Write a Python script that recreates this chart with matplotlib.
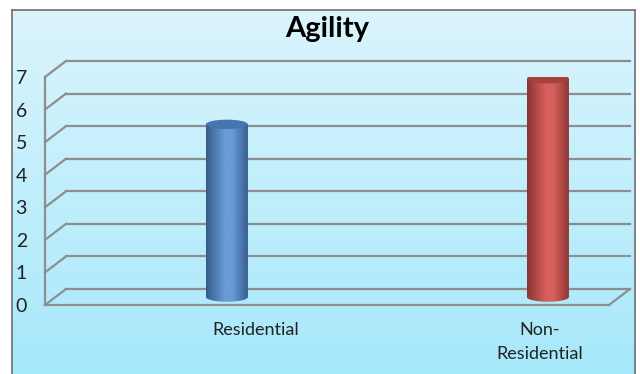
import numpy as np
import matplotlib
matplotlib.use("Agg")
import matplotlib.pyplot as plt
from matplotlib.transforms import ScaledTranslation
from matplotlib.patches import Polygon, Ellipse
from matplotlib.colors import LinearSegmentedColormap

categories = ["Residential", "Non-\nResidential"]
values = [5.3, 6.7]
bar_colors = [("#365b8c", "#6b9cd8", "#4674ae"), ("#8a3432", "#d8605c", "#a8403d")]
yticks = [0, 1, 2, 3, 4, 5, 6, 7]

plt.rcParams["font.family"] = ["Lato", "DejaVu Sans"]

W, H = 640, 374
fig = plt.figure(figsize=(W / 100, H / 100), dpi=100)
fig.patch.set_facecolor("white")

# background panel with vertical gradient
bg = fig.add_axes([12 / W, -0.01, 623 / W, 1 - 10 / H + 0.01])
grad = np.linspace(0, 1, 256).reshape(-1, 1)
bg_cmap = LinearSegmentedColormap.from_list("bg", ["#dbf5fd", "#a6e8fb"])
bg.imshow(grad, cmap=bg_cmap, aspect="auto", extent=[0, 1, 0, 1], origin="upper")
bg.set_xticks([])
bg.set_yticks([])
for s in bg.spines.values():
    s.set_color("#6e6e6e")
    s.set_linewidth(1.2)

# plot axes = front plane of the 3D box
x0_px, x1_px = 45, 609
y0_px, y7_px = 305, 77
ax = fig.add_axes([x0_px / W, 1 - y0_px / H, (x1_px - x0_px) / W, (y0_px - y7_px) / H])
ax.set_facecolor("none")
ax.set_xlim(-0.534, 1.223)
ax.set_ylim(0, 7)
for s in ax.spines.values():
    s.set_visible(False)
ax.set_xticks([])
ax.set_yticks(yticks)
ax.set_yticklabels([str(t) for t in yticks], fontsize=14, color="#222222")
ax.tick_params(axis="y", length=0, pad=13)

back = ax.transData + ScaledTranslation(0.21, 0.16, fig.dpi_scale_trans)
mid = ax.transData + ScaledTranslation(0.105, 0.08, fig.dpi_scale_trans)

xmin, xmax = ax.get_xlim()
gc = "#8e8e8e"
lw = 1.6
# back wall grid lines and side diagonals
for t in yticks:
    ax.plot([xmin, xmax], [t, t], color=gc, lw=lw, transform=back, clip_on=False)
    p_front = ax.transData.transform((xmin, t))
    p_back = back.transform((xmin, t))
    ax.plot([p_front[0], p_back[0]], [p_front[1], p_back[1]], color=gc, lw=lw,
            transform=None, clip_on=False)
# left front edge
ax.plot([xmin, xmin], [0, 7], color=gc, lw=lw, clip_on=False)
# floor front edge and right diagonal
ax.plot([xmin, xmax], [0, 0], color=gc, lw=lw, clip_on=False)
pf = ax.transData.transform((xmax, 0))
pb = back.transform((xmax, 0))
ax.plot([pf[0], pb[0]], [pf[1], pb[1]], color=gc, lw=lw, transform=None, clip_on=False)

# cylinders
bw = 0.131
eh = 0.29
for i, (v, (dark, light, topc)) in enumerate(zip(values, bar_colors)):
    cx = i
    th = np.linspace(np.pi, 2 * np.pi, 60)
    pts = np.column_stack([cx + bw / 2 * np.cos(th), eh / 2 * np.sin(th)])
    pts = np.vstack([pts, [cx + bw / 2, v], [cx - bw / 2, v]])
    clip = Polygon(pts, closed=True, transform=mid, facecolor="none", edgecolor="none")
    ax.add_patch(clip)
    cm = LinearSegmentedColormap.from_list(
        "c%d" % i, [(0, dark), (0.45, light), (0.6, light), (1, dark)])
    row = np.linspace(0, 1, 200).reshape(1, -1)
    im = ax.imshow(row, cmap=cm, aspect="auto",
                   extent=[cx - bw / 2, cx + bw / 2, -eh / 2, v], zorder=3)
    im.set_transform(mid)
    im.set_clip_path(clip)
    top = Ellipse((cx, v), bw, eh, transform=mid, facecolor=topc, edgecolor="none",
                  zorder=4)
    ax.add_patch(top)
ax.set_xlim(xmin, xmax)
ax.set_ylim(0, 7)

# category labels
label_x = [0.123, 1.007]
for lx, lab in zip(label_x, categories):
    ax.text(lx, -0.52, lab, ha="center", va="top", fontsize=13, color="#222222",
            linespacing=1.6)

fig.text(327 / W, 1 - 29 / H, "Agility", ha="center", va="center",
         fontsize=21, fontweight="bold", color="black")

fig.savefig("out.png", dpi=100)
